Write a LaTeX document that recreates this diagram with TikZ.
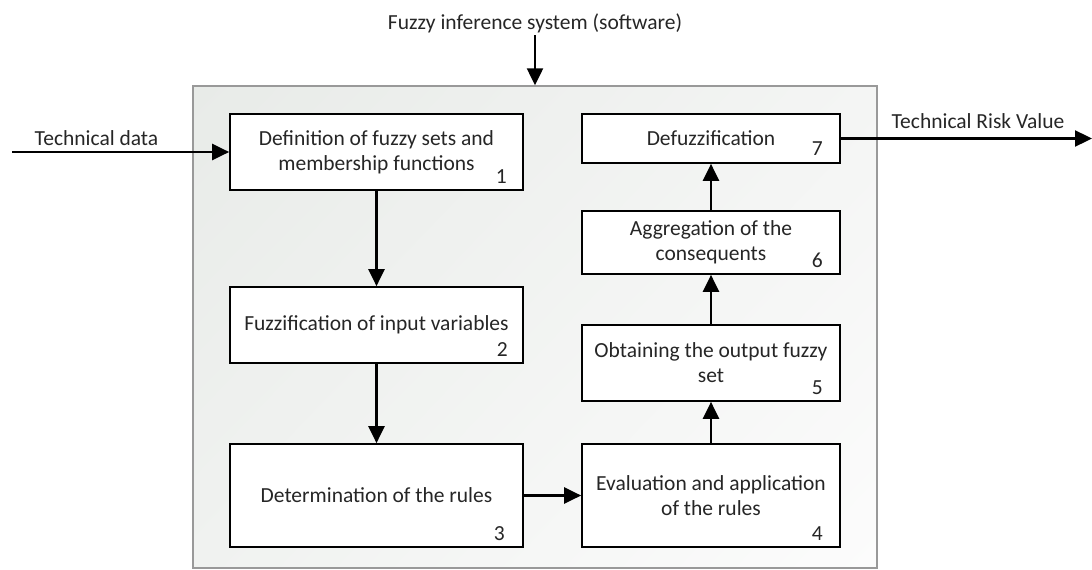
\documentclass[tikz,border=0pt]{standalone}
\usepackage{fontspec}
\setmainfont{Carlito}
\usetikzlibrary{arrows.meta,shadings}
\definecolor{fUL}{RGB}{232,235,232}
\definecolor{fUR}{RGB}{244,245,244}
\definecolor{fLL}{RGB}{240,242,240}
\definecolor{fLR}{RGB}{252,252,252}
\begin{document}
\begin{tikzpicture}[x=1pt,y=-1pt,
  txt/.style={font=\fontsize{21.5}{25}\selectfont, text=black!85},
  box/.style={txt, draw=black, line width=1.7pt, fill=white, align=center, inner sep=0pt},
  num/.style={txt, anchor=base east, inner sep=0pt},
  frame/.style={draw=black!40, line width=1.4pt, inner sep=0pt, shade,
    upper left=fUL, upper right=fUR, lower left=fLL, lower right=fLR},
  arr/.style={line width=2.3pt, -{Triangle[length=17pt,width=16pt]}},
  lbl/.style={txt, inner sep=0pt}
]
\useasboundingbox (0,0) rectangle (1092,570);
% frame
\node[frame, minimum width=684pt, minimum height=482pt] (frame) at (535,327) {};
% boxes
\node[box, minimum width=293pt, minimum height=76pt] (b1) at (376.5,152) {Definition of fuzzy sets and\\membership functions};
\node[box, minimum width=293pt, minimum height=76pt] (b2) at (376.5,325) {Fuzzification of input variables};
\node[box, minimum width=293pt, minimum height=103pt] (b3) at (376.5,495.5) {Determination of the rules};
\node[box, minimum width=258pt, minimum height=103pt] (b4) at (711,495.5) {Evaluation and application\\of the rules};
\node[box, minimum width=258pt, minimum height=76pt] (b5) at (711,363) {Obtaining the output fuzzy\\set};
\node[box, minimum width=258pt, minimum height=63pt] (b6) at (711,242.5) {Aggregation of the\\consequents};
\node[box, minimum width=258pt, minimum height=49pt] (b7) at (711,138.5) {Defuzzification};
% numbers
\node[num] (n1) at ([xshift=-17pt,yshift=7pt]b1.south east) {1};
\node[num] (n2) at ([xshift=-16pt,yshift=7pt]b2.south east) {2};
\node[num] (n3) at ([xshift=-19pt,yshift=7pt]b3.south east) {3};
\node[num] (n4) at ([xshift=-18pt,yshift=7pt]b4.south east) {4};
\node[num] (n5) at ([xshift=-18pt,yshift=7pt]b5.south east) {5};
\node[num] (n6) at ([xshift=-18pt,yshift=7pt]b6.south east) {6};
\node[num] (n7) at ([xshift=-18pt,yshift=8pt]b7.south east) {7};
% outer labels
\node[lbl, anchor=base] (title) at (535,29) {Fuzzy inference system (software)};
\node[lbl, anchor=base] (tdata) at (96.5,145) {Technical data};
\node[lbl, anchor=base] (risk) at (978,128) {Technical Risk Value};
\coordinate (tin) at (12,152);
\coordinate (tout) at (1092,138.5);
\coordinate (ttop) at (535,35);
% connectors
\draw[arr] (ttop) -- (frame.north);
\draw[arr] (tin) -- (b1.west);
\draw[arr] (b7.east) -- (tout);
\draw[arr] (b1.south) -- (b2.north);
\draw[arr] (b2.south) -- (b3.north);
\draw[arr] (b3.east) -- (b4.west);
\draw[arr] (b4.north) -- (b5.south);
\draw[arr] (b5.north) -- (b6.south);
\draw[arr] (b6.north) -- (b7.south);
\end{tikzpicture}
\end{document}
